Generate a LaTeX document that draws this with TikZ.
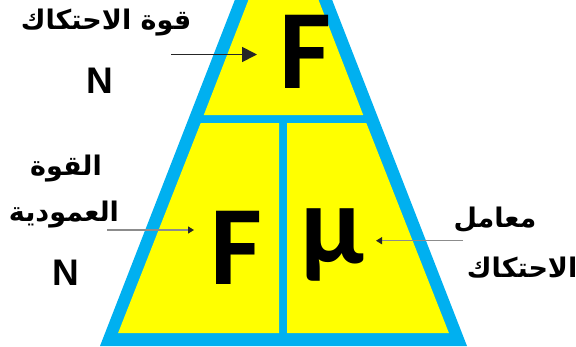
\documentclass[tikz,border=0pt]{standalone}
\usepackage{fontspec}
\setmainfont{Liberation Sans}
\newfontfamily\arabicfont[Script=Arabic]{DejaVu Sans}
\newfontfamily\letterfont{Carlito}
\TeXXeTstate=1
\usetikzlibrary{arrows.meta}
\definecolor{frameblue}{HTML}{00B0F0}
\definecolor{cellyellow}{HTML}{FFFF00}
\tikzset{
  bigletter/.style={font=\letterfont\fontsize{113}{113}\selectfont\bfseries, inner sep=0pt},
  arlabel/.style={font=\arabicfont\fontsize{27}{32}\selectfont\bfseries, inner sep=0pt},
  unitlabel/.style={font=\fontsize{37}{40}\selectfont\bfseries, inner sep=0pt},
  bigarrow/.style={draw=black!85, line width=1.8pt, -{Triangle[length=15pt,width=15pt]}},
  smallarrow/.style={draw=black!45, line width=1.3pt, -{Triangle[length=6pt,width=7pt,color=black!85,fill=black!85]}},
}
\begin{document}
\begin{tikzpicture}[x=1pt,y=-1pt]
\useasboundingbox (0,0) rectangle (576,346);
\clip (0,0) rectangle (576,346);
% outer blue frame
\fill[frameblue] (236,-3) -- (331,-3) -- (467,346) -- (100,346) -- cycle;
% yellow cells
\fill[cellyellow] (249.6,-3) -- (317.4,-3) -- (363.2,115) -- (203.8,115) -- cycle;
\fill[cellyellow] (200.7,123) -- (279,123) -- (279,333) -- (118.1,333) -- cycle;
\fill[cellyellow] (287,123) -- (366.3,123) -- (448.9,333) -- (287,333) -- cycle;
% letters
\node[bigletter] (Ftop) at (305,51.5) {F};
\node[bigletter] (Fbot) at (236.5,247.5) {F};
\node[bigletter, anchor=base] (mu) at (332,263) {μ};
% labels
\node[arlabel] (friction) at (106,23) {\beginR قوة الاحتكاك\endR};
\node[unitlabel] (Ntop) at (99.5,81) {N};
\node[arlabel] (normal1) at (66,169) {\beginR القوة\endR};
\node[arlabel] (normal2) at (64,215) {\beginR العمودية\endR};
\node[unitlabel] (Nbot) at (65.5,272.5) {N};
\node[arlabel] (coef1) at (495,220) {\beginR معامل\endR};
\node[arlabel, anchor=west] (coef2) at (466.7,268) {\beginR الاحتكاك\endR};
% connectors
\coordinate (a1s) at (171,54.5);
\coordinate (a1e) at (257,54.5);
\coordinate (a2s) at (107,230);
\coordinate (a2e) at (194,230);
\coordinate (a3s) at (463,240.7);
\coordinate (a3e) at (376,240.7);
\draw[bigarrow] (a1s) -- (a1e);
\draw[smallarrow] (a2s) -- (a2e);
\draw[smallarrow] (a3s) -- (a3e);
\end{tikzpicture}
\end{document}
